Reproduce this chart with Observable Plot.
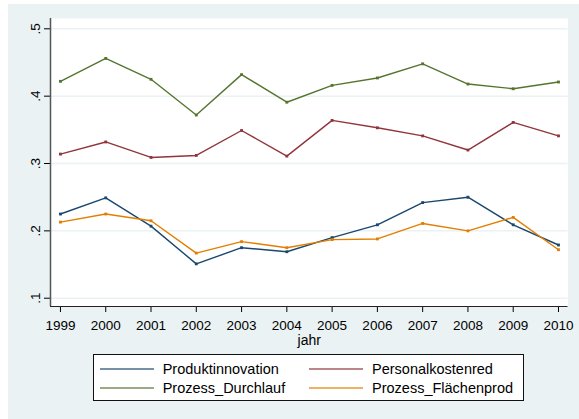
<!DOCTYPE html>
<html><head><meta charset="utf-8">
<script src="https://cdn.jsdelivr.net/npm/d3@7"></script>
<script src="https://cdn.jsdelivr.net/npm/@observablehq/plot@0.6"></script>
<style>
html,body{margin:0;padding:0;background:#fff;width:579px;height:419px;overflow:hidden;font-family:"Liberation Sans",Arial,sans-serif;}
#wrap{position:absolute;left:8px;top:4px;width:571px;height:415px;background:#eaf2f3;}
#chart{position:absolute;left:0;top:0;}
#legend{position:absolute;left:85px;top:350px;width:431px;height:47px;background:#fff;border:1px solid #111;box-sizing:border-box;}
.item{position:absolute;height:20px;display:flex;align-items:center;font-size:14.5px;color:#000;white-space:nowrap;}
.item svg{display:block;margin-right:9px;}
</style></head><body>
<div id="wrap"><div id="chart"></div><div id="legend"></div></div>
<script>
const years = [1999, 2000, 2001, 2002, 2003, 2004, 2005, 2006, 2007, 2008, 2009, 2010];
const produktinnovation = [0.225, 0.249, 0.207, 0.151, 0.175, 0.169, 0.190, 0.209, 0.242, 0.250, 0.209, 0.179];
const personalkostenred = [0.314, 0.332, 0.309, 0.312, 0.349, 0.311, 0.364, 0.353, 0.341, 0.320, 0.361, 0.341];
const prozessDurchlauf = [0.422, 0.456, 0.425, 0.372, 0.432, 0.391, 0.416, 0.427, 0.448, 0.418, 0.411, 0.421];
const prozessFlaechenprod = [0.213, 0.225, 0.215, 0.167, 0.184, 0.175, 0.187, 0.188, 0.211, 0.200, 0.220, 0.172];
const seriesNames = ["Produktinnovation", "Personalkostenred", "Prozess_Durchlauf", "Prozess_Flächenprod"];
const seriesColors = ["#1a476f", "#90353b", "#55752f", "#e37e00"];
const yTicks = [0.1, 0.2, 0.3, 0.4, 0.5];
const xLabel = "jahr";

const seriesValues = [produktinnovation, personalkostenred, prozessDurchlauf, prozessFlaechenprod];
const data = seriesNames.flatMap((name, s) => years.map((jahr, i) => ({jahr, value: seriesValues[s][i], series: name})));

const xDomain = [1998.78, 2010.21];
const yDomain = [0.0877, 0.5153];
const fmt = d => d.toFixed(1).replace(/^0/, "");

const plot = Plot.plot({
  width: 571, height: 346,
  marginLeft: 42, marginRight: 11.5, marginTop: 14, marginBottom: 44,
  style: {background: "transparent", fontFamily: "'Liberation Sans', Arial, sans-serif", fontSize: "13.5px", color: "#000"},
  x: {domain: xDomain, ticks: years, tickFormat: d => String(d), tickSize: 6, tickPadding: 8, label: null},
  y: {domain: yDomain, ticks: yTicks, tickSize: 6, tickFormat: () => "", label: null},
  color: {domain: seriesNames, range: seriesColors},
  marks: [
    Plot.frame({fill: "white", stroke: "none"}),
    Plot.ruleY(yTicks, {y: d => d, stroke: "#eaf2f3", strokeWidth: 1.5}),
    Plot.ruleX([xDomain[0]], {x: d => d, stroke: "#555", strokeWidth: 1.5}),
    Plot.ruleY([yDomain[0]], {y: d => d, stroke: "#222", strokeWidth: 1.2}),
    Plot.line(data, {x: "jahr", y: "value", z: "series", stroke: "series", strokeWidth: 1.4}),
    Plot.dot(data, {x: "jahr", y: "value", fill: "series", symbol: "square", r: 1.6}),
    Plot.text(yTicks, {y: d => d, text: fmt, frameAnchor: "left", dx: -15, rotate: -90, textAnchor: "middle", lineAnchor: "middle", fontSize: 13.5}),
    Plot.text([xLabel], {frameAnchor: "bottom", dy: 34, text: d => d, lineAnchor: "middle", fontSize: 14})
  ]
});
document.getElementById("chart").appendChild(plot);

const legend = document.getElementById("legend");
seriesNames.forEach((name, i) => {
  const col = i % 2, row = Math.floor(i / 2);
  const item = document.createElement("div");
  item.className = "item";
  item.style.left = (col === 0 ? 5.7 : 215) + "px";
  item.style.top = (row === 0 ? 3.7 : 23.4) + "px";
  item.innerHTML = `<svg width="54" height="4"><line x1="0" y1="2" x2="54" y2="2" stroke="${seriesColors[i]}" stroke-width="1.6" opacity="0.8"/></svg><span>${name}</span>`;
  legend.appendChild(item);
});
</script>
</body></html>
